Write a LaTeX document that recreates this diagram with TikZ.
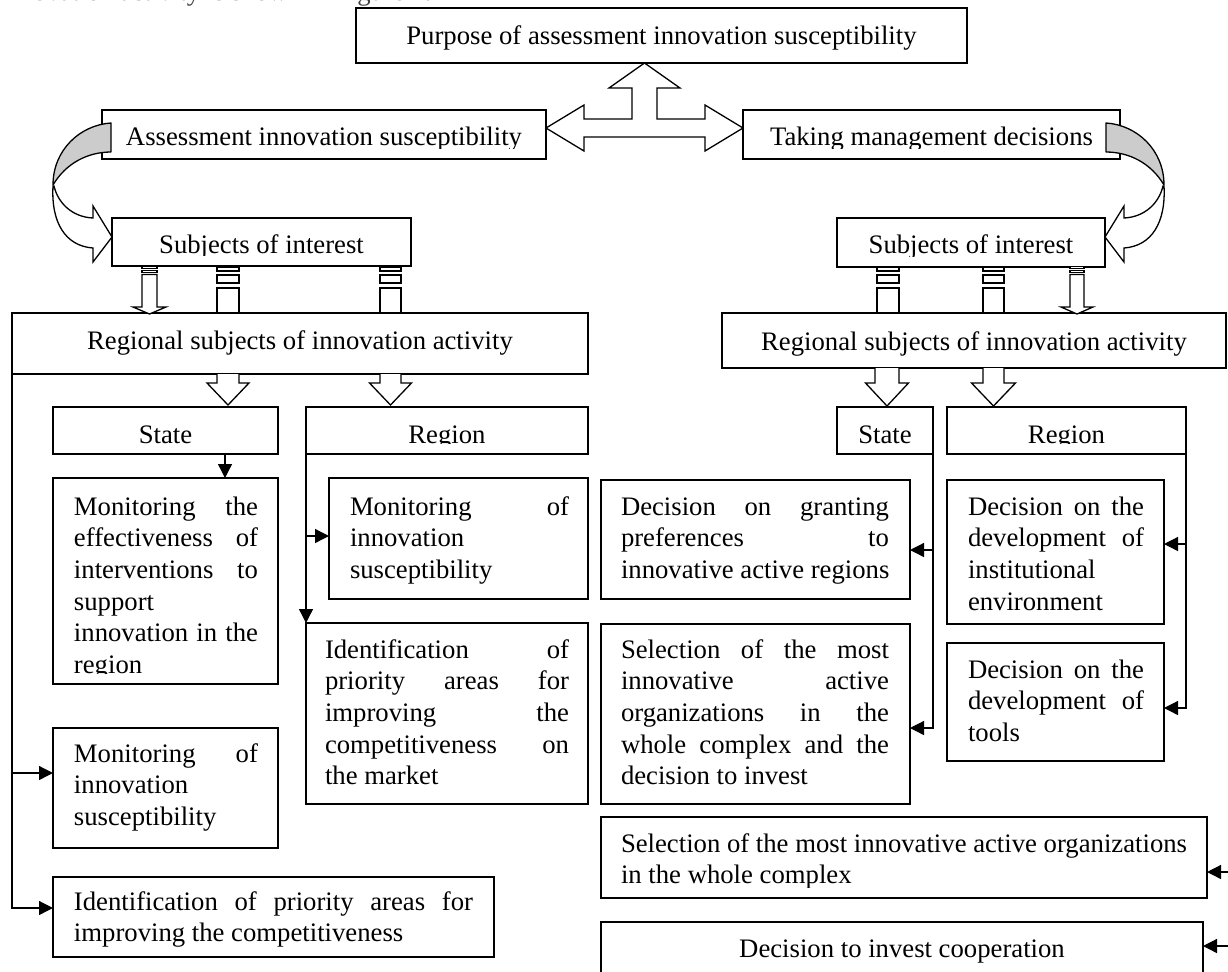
\documentclass[tikz,border=0pt]{standalone}
\usepackage{fontspec}
\setmainfont{Liberation Serif}
\usetikzlibrary{arrows.meta,calc}
\tikzset{
  bx/.style={draw=black, line width=0.65pt, fill=white, inner sep=0pt, outer sep=0pt, rectangle},
  txt/.style={inner sep=0pt, outer sep=0pt, font=\fontsize{13.35}{15.85}\selectfont},
  conn/.style={line width=0.65pt, -{Triangle[length=7pt,width=7pt]}},
  blk/.style={draw=black, line width=0.65pt, fill=white, line join=miter},
  band/.style={draw=black, line width=0.65pt, fill=gray!40, line join=round},
}
\newcommand\bx[5]{\node[bx, anchor=north west, minimum width={(#4-#2)*0.5pt}, minimum height={(#5-#3)*0.5pt}] (#1) at (#2,#3) {};}
\newcommand\tx[4]{\begin{scope}\clip (#1.north west) rectangle ([yshift=5.5pt]#1.south east);\node[txt,#3] (#1-t) at (#2) {#4};\end{scope}}
\newcommand\jl[1]{\hbox to \hsize{\spaceskip=0.25em plus 1fil\relax #1}}
\newcommand\nl[1]{\hbox{#1}}
\newcommand\ml[2]{\vtop{\hsize=#1\relax #2}}
\newcommand\hdown[6]{\draw[blk] (#1-#5,#2) -- (#1-#5,#3) -- (#1-#6,#3) -- (#1,#4) -- (#1+#6,#3) -- (#1+#5,#3) -- (#1+#5,#2);}
\newcommand\stripedup[2]{%
  \draw[blk] (#1,267) rectangle (#2,271);
  \draw[blk] (#1,275) rectangle (#2,283);
  \draw[blk] (#1,288) rectangle (#2,313);}
\newcommand\stripeddown[5]{% shaft x1 x2, head x1 x2, tip x
  \draw[blk] (#1,266.5) rectangle (#2,268.5);
  \draw[blk] (#1,270.5) rectangle (#2,272.5);
  \draw[blk] (#1,274.5) -- (#1,307) -- (#3,307) -- (#5,314) -- (#4,307) -- (#2,307) -- (#2,274.5) -- cycle;}
\newcommand\curvedarrow{%
  \draw[band] (111,123) .. controls (80,125) and (53,150) .. (53,185)
     .. controls (66,163) and (88,152) .. (111,152) -- cycle;
  \draw[blk] (54,186) .. controls (58,203) and (72,217) .. (93,218) -- (93,206) -- (112,237)
     -- (93,262) -- (93,248) .. controls (65,246) and (51,222) .. (53,186) -- cycle;}
\begin{document}
\begin{tikzpicture}[x=0.5pt,y=-0.5pt]
\useasboundingbox (0,0) rectangle (1228,971);
\clip (0,0) rectangle (1228,971);
\fill[white] (0,0) rectangle (1228,971);

\node[txt, anchor=base west, text=black!75] (frag) at (20,0) {novation activity is shown in Figure 1.};

% boxes
\bx{purpose}{356}{8}{967}{63}
\bx{asmt}{102}{110}{546}{159}
\bx{taking}{743}{110}{1120}{159}
\bx{subjL}{112}{218}{411}{266}
\bx{subjR}{837}{218}{1105}{267}
\bx{rgL}{12}{313}{588}{374}
\bx{rgR}{722}{313}{1226}{368}
\bx{stL}{53}{407}{278}{454}
\bx{regL}{306}{407}{588}{454}
\bx{stR}{837}{407}{933}{454}
\bx{regR}{947}{407}{1186}{454}
\bx{monEff}{53}{478}{278}{684}
\bx{monR}{329}{478}{588}{599}
\bx{idR}{306}{623}{588}{804}
\bx{monLt}{53}{728}{278}{848}
\bx{idL}{53}{877}{494}{957}
\bx{grant}{601}{480}{910}{599}
\bx{selB}{601}{624}{910}{804}
\bx{instit}{947}{480}{1164}{624}
\bx{tools}{947}{643}{1164}{761}
\bx{selW}{601}{817}{1207}{898}
\bx{decInv}{601}{922}{1203}{1000}

% texts
\tx{purpose}{661.5,44}{anchor=base}{Purpose of assessment innovation susceptibility}
\tx{asmt}{324,145}{anchor=base}{Assessment innovation susceptibility}
\tx{taking}{931.5,145}{anchor=base}{Taking management decisions}
\tx{subjL}{261.5,253}{anchor=base}{Subjects of interest}
\tx{subjR}{971,253}{anchor=base}{Subjects of interest}
\tx{rgL}{300,349}{anchor=base}{Regional subjects of innovation activity}
\tx{rgR}{974,350}{anchor=base}{Regional subjects of innovation activity}
\tx{stL}{165.5,443}{anchor=base}{State}
\tx{regL}{447,443}{anchor=base}{Region}
\tx{stR}{885,443}{anchor=base}{State}
\tx{regR}{1066.5,443}{anchor=base}{Region}
\tx{monEff}{74,515}{anchor=base west}{\ml{92pt}{\jl{Monitoring the}\jl{effectiveness of}\jl{interventions to}\nl{support}\jl{innovation in the}\nl{region}}}
\tx{monR}{350,515}{anchor=base west}{\ml{109.5pt}{\jl{Monitoring of}\nl{innovation}\nl{susceptibility}}}
\tx{idR}{325,658}{anchor=base west}{\ml{122pt}{\jl{Identification of}\jl{priority areas for}\jl{improving the}\jl{competitiveness on}\nl{the market}}}
\tx{monLt}{74,762}{anchor=base west}{\ml{92pt}{\jl{Monitoring of}\nl{innovation}\nl{susceptibility}}}
\tx{idL}{74,910}{anchor=base west}{\ml{199.5pt}{\jl{Identification of priority areas for}\nl{improving the competitiveness}}}
\tx{grant}{621,515}{anchor=base west}{\ml{134pt}{\jl{Decision on granting}\jl{preferences to}\nl{innovative active regions}}}
\tx{selB}{621,658}{anchor=base west}{\ml{134pt}{\jl{Selection of the most}\jl{innovative active}\jl{organizations in the}\jl{whole complex and the}\nl{decision to invest}}}
\tx{instit}{968,515}{anchor=base west}{\ml{88pt}{\jl{Decision on the}\jl{development of}\nl{institutional}\nl{environment}}}
\tx{tools}{968,678}{anchor=base west}{\ml{88pt}{\jl{Decision on the}\jl{development of}\nl{tools}}}
\tx{selW}{621,852}{anchor=base west}{\ml{282.5pt}{\jl{Selection of the most innovative active organizations}\nl{in the whole complex}}}
\tx{decInv}{902,957}{anchor=base}{Decision to invest cooperation}

% four-way block arrow
\draw[blk] (546,128) -- (584,105) -- (584,119) -- (632,119) -- (632,88) -- (609,88) -- (644.5,63)
  -- (680,88) -- (657,88) -- (657,119) -- (705,119) -- (705,105) -- (743,128) -- (705,151)
  -- (705,137) -- (584,137) -- (584,151) -- cycle;

% curved arrows
\curvedarrow
\begin{scope}[shift={(1217,0)}, xscale=-1]
\curvedarrow
\end{scope}

% striped arrows between Subjects and Regional
\stripeddown{142}{157}{133}{166}{149.5}
\stripedup{217}{239}
\stripedup{380}{401}
\stripedup{877}{899}
\stripedup{983}{1004}
\stripeddown{1070}{1084}{1061}{1093}{1077}

% hollow down arrows
\hdown{228}{374}{383}{405}{11}{21}
\hdown{390.5}{374}{383}{405}{10.5}{21}
\hdown{887}{368}{383}{406}{12}{21.5}
\hdown{993.5}{368}{383}{406}{10.5}{22}

% connectors left
\draw[conn] ([xshift=29.75pt]stL.south) -- ([xshift=29.75pt]monEff.north);
\draw[conn] (regL.south west) -- (idR.north west);
\draw[conn] (regL.south west) |- ([yshift=1.25pt]monR.west);
\draw[conn] (rgL.south west) |- ([yshift=7.5pt]monLt.west);
\draw[conn] (rgL.south west) |- ([yshift=4.5pt]idL.west);
% connectors right
\draw[conn] (stR.south east) |- ([yshift=-5.25pt]grant.east);
\draw[conn] (stR.south east) |- ([yshift=-7pt]selB.east);
\draw[conn] (regR.south east) |- ([yshift=4pt]instit.east);
\draw[conn] (regR.south east) |- ([yshift=-3pt]tools.east);
\coordinate (o1) at (1245,872);
\coordinate (o2) at (1245,946);
\draw[conn] (o1) -- (o1 -| selW.east);
\draw[conn] (o2) -- (o2 -| decInv.east);
\end{tikzpicture}
\end{document}
